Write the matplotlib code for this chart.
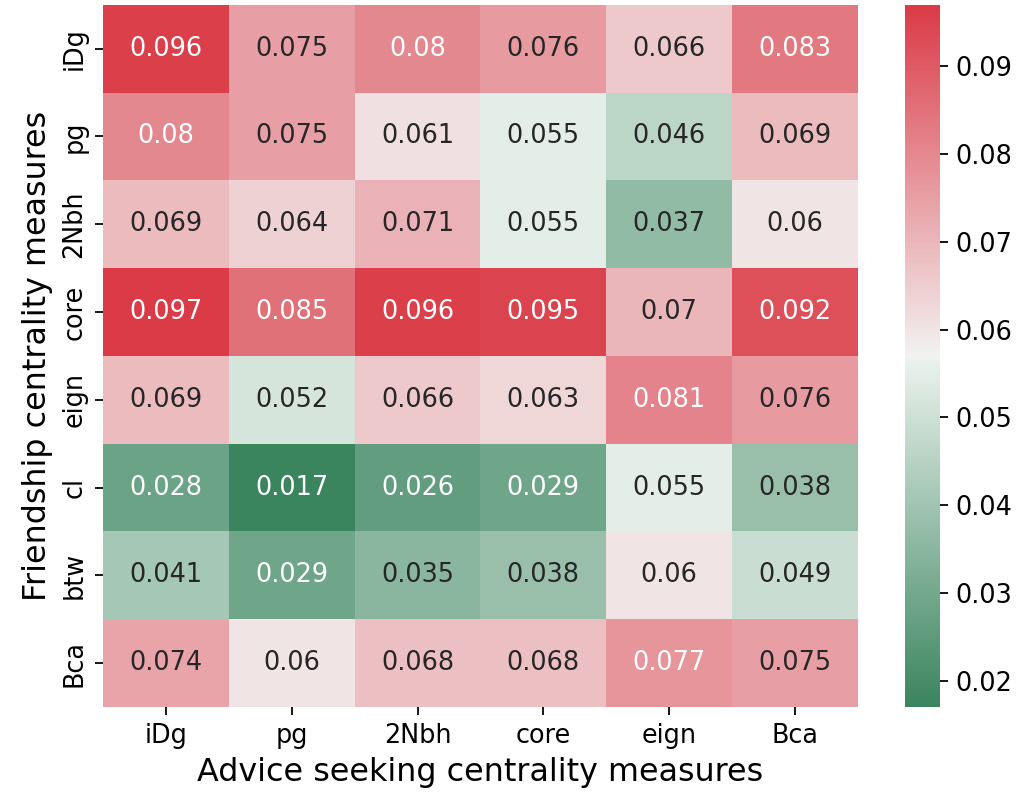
import numpy as np
import pandas as pd
import seaborn as sns
import matplotlib
matplotlib.use("Agg")
import matplotlib.pyplot as plt

# datos
filas = ["iDg", "pg", "2Nbh", "core", "eign", "cl", "btw", "Bca"]
columnas = ["iDg", "pg", "2Nbh", "core", "eign", "Bca"]

iDg = [0.096, 0.075, 0.08, 0.076, 0.066, 0.083]
pg = [0.08, 0.075, 0.061, 0.055, 0.046, 0.069]
nbh2 = [0.069, 0.064, 0.071, 0.055, 0.037, 0.06]
core = [0.097, 0.085, 0.096, 0.095, 0.07, 0.092]
eign = [0.069, 0.052, 0.066, 0.063, 0.081, 0.076]
cl = [0.028, 0.017, 0.026, 0.029, 0.055, 0.038]
btw = [0.041, 0.029, 0.035, 0.038, 0.06, 0.049]
bca = [0.074, 0.06, 0.068, 0.068, 0.077, 0.075]

df = pd.DataFrame([iDg, pg, nbh2, core, eign, cl, btw, bca], index=filas, columns=columnas)

fig = plt.figure(figsize=(6.375, 4.9875), dpi=160)
ax = fig.add_axes([0.101, 0.114, 0.740, 0.880])
cax = fig.add_axes([0.887, 0.114, 0.0343, 0.880])

cmap = sns.diverging_palette(145, 10, as_cmap=True)
sns.heatmap(df, annot=True, annot_kws={"fontsize": 11.5}, cmap=cmap, ax=ax, cbar_ax=cax)

ax.tick_params(labelsize=11.5)
cax.tick_params(labelsize=11.5)
ax.set_xlabel("Advice seeking centrality measures", fontsize=14.3)
ax.set_ylabel("Friendship centrality measures", fontsize=14.3)

fig.savefig("out.png", dpi=160)
